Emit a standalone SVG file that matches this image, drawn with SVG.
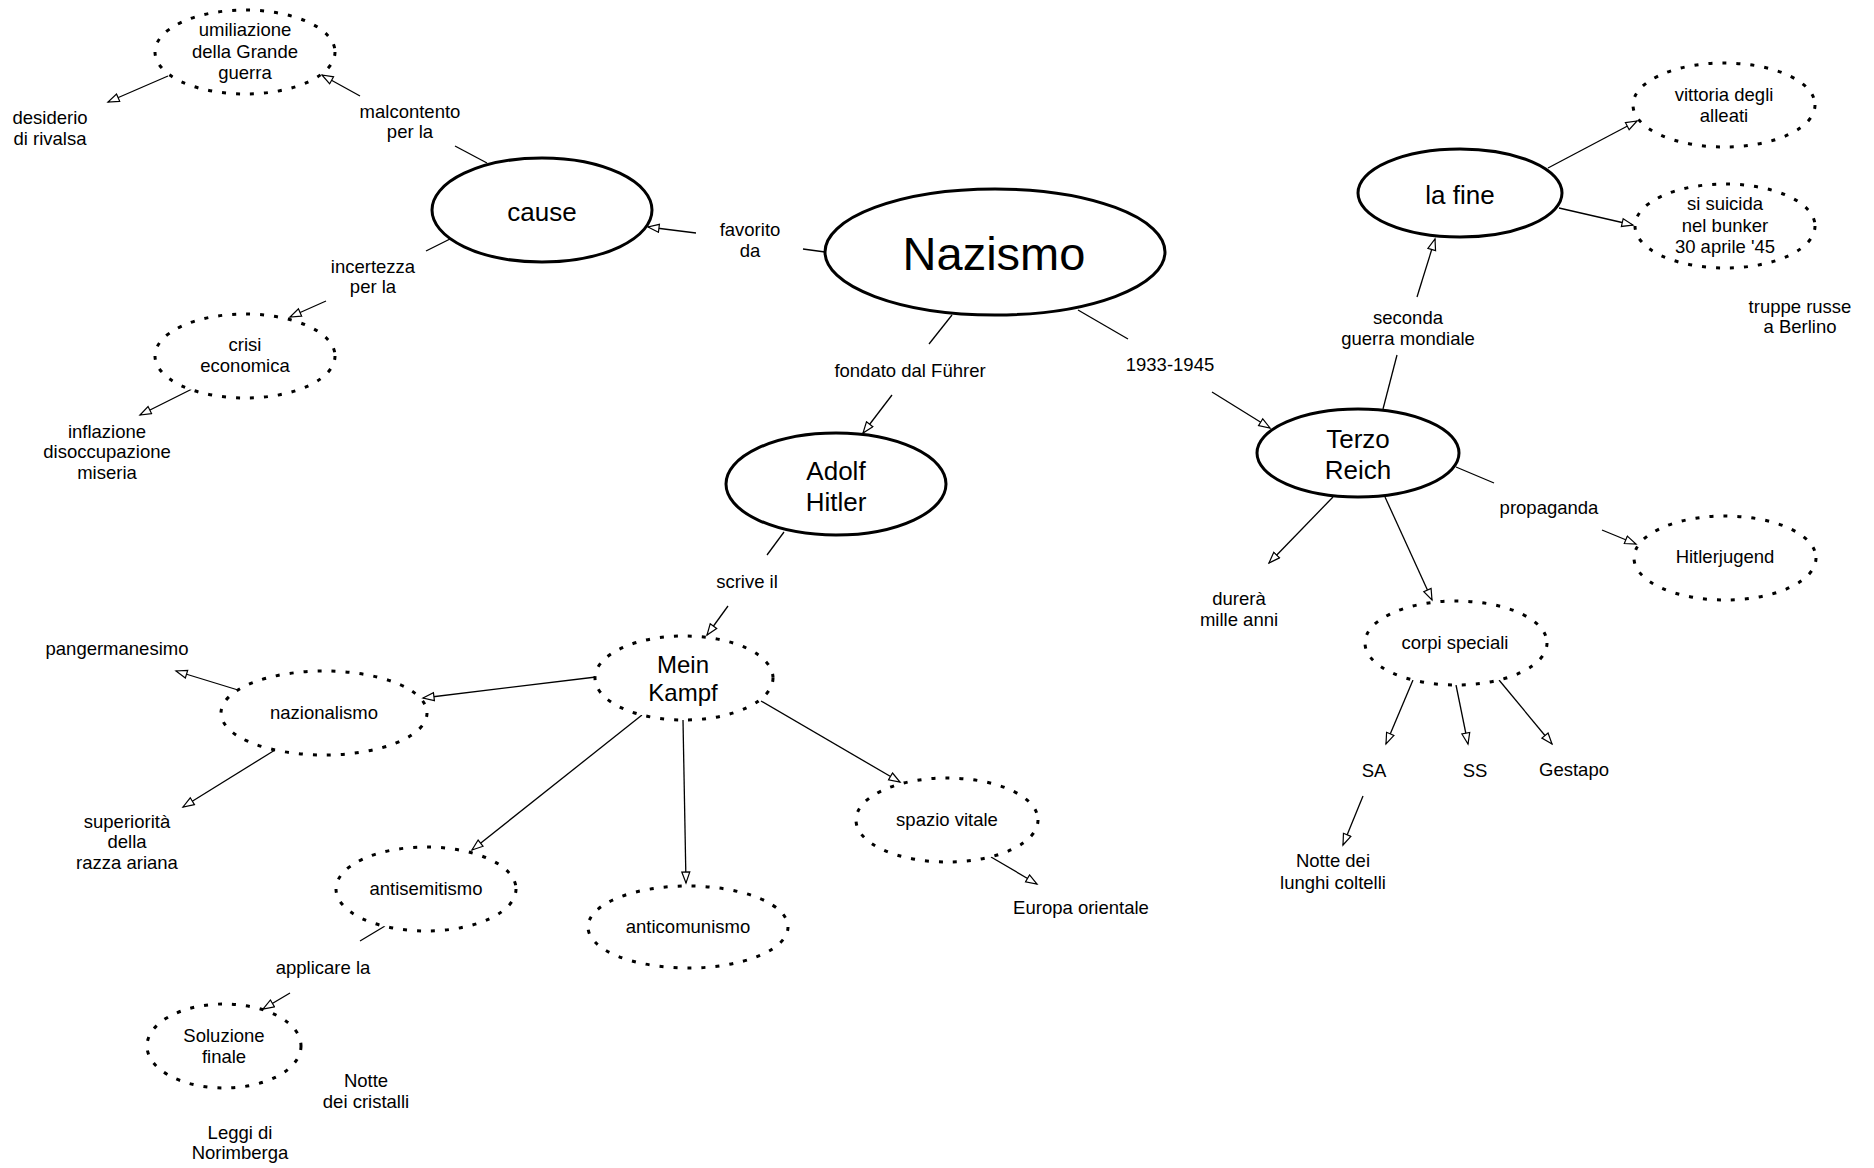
<svg xmlns="http://www.w3.org/2000/svg" width="1874" height="1168" viewBox="0 0 1874 1168">
<style>
text{font-family:"Liberation Sans",Arial,sans-serif;fill:#000;text-anchor:middle}
.t{font-size:18.5px}
.b{font-size:26px}
.m{font-size:24px}
.n{font-size:47px}
.solid{fill:#fff;stroke:#000;stroke-width:3}
.dot{fill:#fff;stroke:#000;stroke-width:3;stroke-dasharray:4 10}
.c line{stroke:#000;stroke-width:1.3}
.a{marker-end:url(#arr)}
</style>
<defs>
<marker id="arr" markerUnits="userSpaceOnUse" markerWidth="14" markerHeight="12" refX="12" refY="5" orient="auto">
<path d="M1,1 L12,5 L1,9 Z" fill="#fff" stroke="#000" stroke-width="1.2"/>
</marker>
</defs>
<rect width="1874" height="1168" fill="#fff"/>
<g class="c" id="connectors">
<line x1="487" y1="163" x2="455" y2="146"/>
<line class="a" x1="360" y1="96" x2="322" y2="75"/>
<line class="a" x1="168" y1="76" x2="108" y2="102"/>
<line x1="825" y1="252" x2="803" y2="249"/>
<line class="a" x1="696" y1="233" x2="648" y2="227"/>
<line x1="450" y1="239" x2="426" y2="251"/>
<line class="a" x1="326" y1="301" x2="290" y2="317"/>
<line class="a" x1="192" y1="389" x2="140" y2="415"/>
<line x1="952" y1="315" x2="929" y2="344"/>
<line class="a" x1="892" y1="395" x2="863" y2="433"/>
<line x1="1078" y1="310" x2="1128" y2="339"/>
<line class="a" x1="1212" y1="392" x2="1270" y2="428"/>
<line x1="1383" y1="409" x2="1397" y2="355"/>
<line class="a" x1="1417" y1="297" x2="1435" y2="239"/>
<line class="a" x1="1548" y1="168" x2="1637" y2="121"/>
<line class="a" x1="1559" y1="208" x2="1633" y2="225"/>
<line x1="1456" y1="467" x2="1494" y2="483"/>
<line class="a" x1="1602" y1="530" x2="1636" y2="544"/>
<line class="a" x1="1333" y1="497" x2="1269" y2="563"/>
<line class="a" x1="1385" y1="497" x2="1432" y2="600"/>
<line class="a" x1="1413" y1="680" x2="1386" y2="744"/>
<line class="a" x1="1456" y1="685" x2="1468" y2="744"/>
<line class="a" x1="1499" y1="680" x2="1552" y2="744"/>
<line class="a" x1="1363" y1="796" x2="1343" y2="845"/>
<line x1="784" y1="532" x2="767" y2="555"/>
<line class="a" x1="728" y1="606" x2="707" y2="635"/>
<line class="a" x1="596" y1="677" x2="423" y2="698"/>
<line class="a" x1="238" y1="690" x2="176" y2="671"/>
<line class="a" x1="275" y1="750" x2="183" y2="807"/>
<line class="a" x1="642" y1="715" x2="472" y2="850"/>
<line class="a" x1="683" y1="720" x2="686" y2="883"/>
<line class="a" x1="761" y1="701" x2="900" y2="782"/>
<line class="a" x1="991" y1="857" x2="1037" y2="884"/>
<line x1="385" y1="926" x2="360" y2="941"/>
<line class="a" x1="290" y1="993" x2="263" y2="1009"/>
</g>
<g id="nazismo"><ellipse class="solid" cx="995" cy="252" rx="170" ry="63"/><text class="n" x="994" y="270">Nazismo</text></g>
<g id="cause"><ellipse class="solid" cx="542" cy="210" rx="110" ry="52"/><text class="b" x="542" y="221">cause</text></g>
<g id="umiliazione"><ellipse class="dot" cx="245" cy="52" rx="90" ry="42"/><text class="t"><tspan x="245" y="36">umiliazione</tspan><tspan x="245" y="58">della Grande</tspan><tspan x="245" y="79">guerra</tspan></text></g>
<g id="desiderio"><text class="t"><tspan x="50" y="124">desiderio</tspan><tspan x="50" y="145">di rivalsa</tspan></text></g>
<g id="lbl-malcontento"><text class="t"><tspan x="410" y="118">malcontento</tspan><tspan x="410" y="138">per la</tspan></text></g>
<g id="lbl-favorito"><text class="t"><tspan x="750" y="236">favorito</tspan><tspan x="750" y="257">da</tspan></text></g>
<g id="lbl-incertezza"><text class="t"><tspan x="373" y="273">incertezza</tspan><tspan x="373" y="293">per la</tspan></text></g>
<g id="crisi"><ellipse class="dot" cx="245" cy="356" rx="90" ry="42"/><text class="t"><tspan x="245" y="351">crisi</tspan><tspan x="245" y="372">economica</tspan></text></g>
<g id="inflazione"><text class="t"><tspan x="107" y="438">inflazione</tspan><tspan x="107" y="458">disoccupazione</tspan><tspan x="107" y="479">miseria</tspan></text></g>
<g id="lbl-fondato"><text class="t" x="910" y="377">fondato dal Führer</text></g>
<g id="lbl-1933"><text class="t" x="1170" y="371">1933-1945</text></g>
<g id="hitler"><ellipse class="solid" cx="836" cy="484" rx="110" ry="51"/><text class="b"><tspan x="836" y="480">Adolf</tspan><tspan x="836" y="511">Hitler</tspan></text></g>
<g id="lbl-scrive"><text class="t" x="747" y="588">scrive il</text></g>
<g id="meinkampf"><ellipse class="dot" cx="684" cy="678" rx="89" ry="42"/><text class="m"><tspan x="683" y="673">Mein</tspan><tspan x="683" y="701">Kampf</tspan></text></g>
<g id="nazionalismo"><ellipse class="dot" cx="324" cy="713" rx="103" ry="42"/><text class="t" x="324" y="719">nazionalismo</text></g>
<g id="pangermanesimo"><text class="t" x="117" y="655">pangermanesimo</text></g>
<g id="superiorita"><text class="t"><tspan x="127" y="828">superiorità</tspan><tspan x="127" y="848">della</tspan><tspan x="127" y="869">razza ariana</tspan></text></g>
<g id="antisemitismo"><ellipse class="dot" cx="426" cy="889" rx="90" ry="42"/><text class="t" x="426" y="895">antisemitismo</text></g>
<g id="anticomunismo"><ellipse class="dot" cx="688" cy="927" rx="100" ry="41"/><text class="t" x="688" y="933">anticomunismo</text></g>
<g id="spazio"><ellipse class="dot" cx="947" cy="820" rx="91" ry="42"/><text class="t" x="947" y="826">spazio vitale</text></g>
<g id="europa"><text class="t" x="1081" y="914">Europa orientale</text></g>
<g id="lbl-applicare"><text class="t" x="323" y="974">applicare la</text></g>
<g id="soluzione"><ellipse class="dot" cx="224" cy="1046" rx="77" ry="42"/><text class="t"><tspan x="224" y="1042">Soluzione</tspan><tspan x="224" y="1063">finale</tspan></text></g>
<g id="cristalli"><text class="t"><tspan x="366" y="1087">Notte</tspan><tspan x="366" y="1108">dei cristalli</tspan></text></g>
<g id="norimberga"><text class="t"><tspan x="240" y="1139">Leggi di</tspan><tspan x="240" y="1159">Norimberga</tspan></text></g>
<g id="terzoreich"><ellipse class="solid" cx="1358" cy="453" rx="101" ry="44"/><text class="b"><tspan x="1358" y="448">Terzo</tspan><tspan x="1358" y="479">Reich</tspan></text></g>
<g id="lbl-seconda"><text class="t"><tspan x="1408" y="324">seconda</tspan><tspan x="1408" y="345">guerra mondiale</tspan></text></g>
<g id="lafine"><ellipse class="solid" cx="1460" cy="193" rx="102" ry="44"/><text class="b" x="1460" y="204">la fine</text></g>
<g id="vittoria"><ellipse class="dot" cx="1724" cy="105" rx="91" ry="42"/><text class="t"><tspan x="1724" y="101">vittoria degli</tspan><tspan x="1724" y="122">alleati</tspan></text></g>
<g id="suicida"><ellipse class="dot" cx="1725" cy="226" rx="90" ry="42"/><text class="t"><tspan x="1725" y="210">si suicida</tspan><tspan x="1725" y="232">nel bunker</tspan><tspan x="1725" y="253">30 aprile '45</tspan></text></g>
<g id="truppe"><text class="t"><tspan x="1800" y="313">truppe russe</tspan><tspan x="1800" y="333">a Berlino</tspan></text></g>
<g id="lbl-propaganda"><text class="t" x="1549" y="514">propaganda</text></g>
<g id="hitlerjugend"><ellipse class="dot" cx="1725" cy="558" rx="91" ry="42"/><text class="t" x="1725" y="563">Hitlerjugend</text></g>
<g id="durera"><text class="t"><tspan x="1239" y="605">durerà</tspan><tspan x="1239" y="626">mille anni</tspan></text></g>
<g id="corpi"><ellipse class="dot" cx="1456" cy="643" rx="91" ry="42"/><text class="t" x="1455" y="649">corpi speciali</text></g>
<g id="sa"><text class="t" x="1374" y="777">SA</text></g>
<g id="ss"><text class="t" x="1475" y="777">SS</text></g>
<g id="gestapo"><text class="t" x="1574" y="776">Gestapo</text></g>
<g id="lunghi"><text class="t"><tspan x="1333" y="867">Notte dei</tspan><tspan x="1333" y="889">lunghi coltelli</tspan></text></g>
</svg>
